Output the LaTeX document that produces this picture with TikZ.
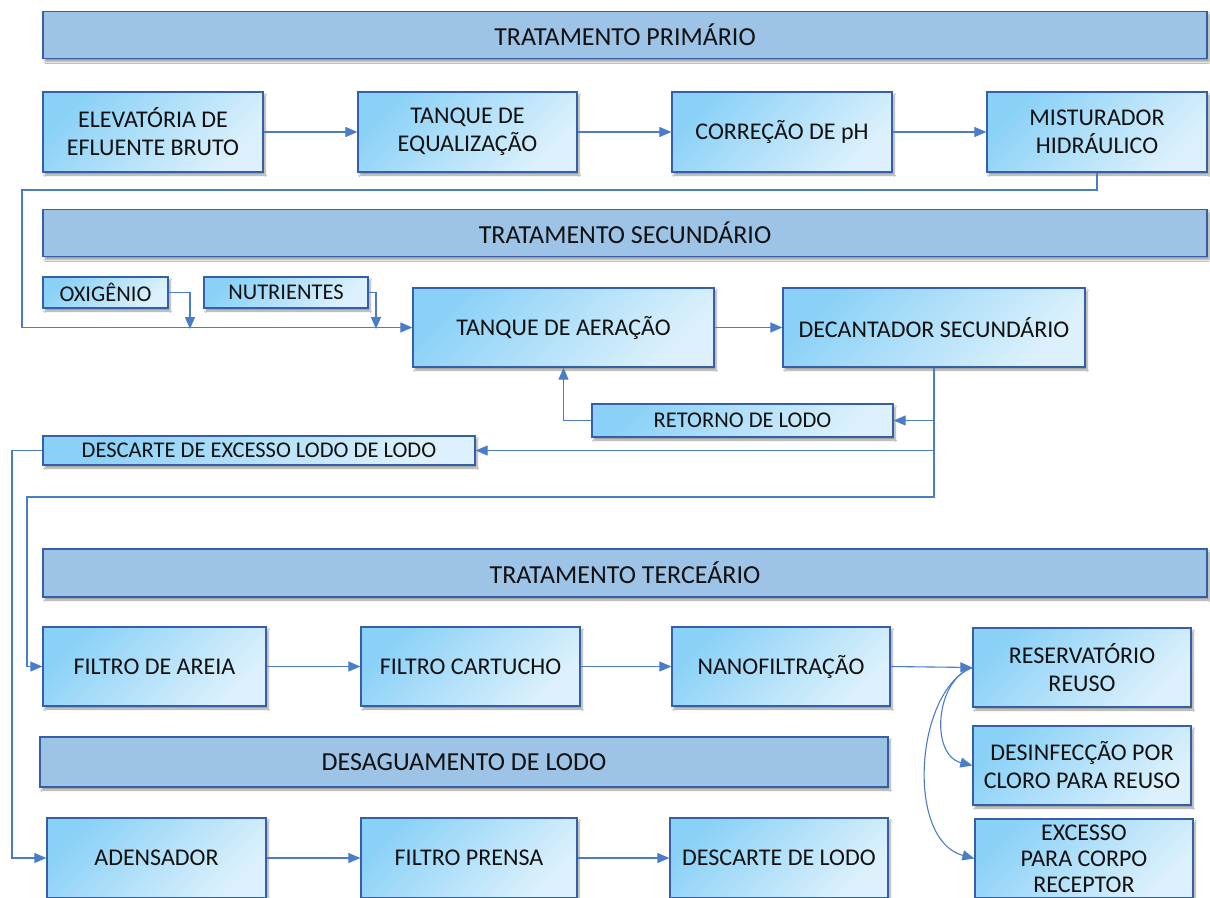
\documentclass[tikz,border=0pt]{standalone}
\usepackage{fontspec}
\setmainfont{Carlito}
\usetikzlibrary{arrows.meta,shadows.blur}
\definecolor{boxA}{HTML}{8AD1F7}
\definecolor{boxB}{HTML}{DDF1FC}
\definecolor{boxline}{HTML}{3560A8}
\definecolor{barfill}{HTML}{9DC3E6}
\definecolor{flowc}{HTML}{4A7CC9}
\definecolor{textc}{HTML}{111111}
\begin{document}
\begin{tikzpicture}[x=1pt,y=-1pt,
    frame/.style = {draw=boxline, line width=1.3pt, align=center, text=textc, inner sep=2pt,
                    blur shadow={shadow xshift=2pt, shadow yshift=-3pt, shadow blur steps=6}},
    box/.style = {frame, top color=boxA, bottom color=boxB, shading angle=45,
                  minimum height=80pt, font=\fontsize{24}{28}\selectfont},
    small/.style = {box, minimum height=31pt, font=\fontsize{22.5}{26}\selectfont},
    bar/.style = {frame, fill=barfill, minimum width=1164pt, minimum height=47pt,
                  font=\fontsize{26}{30}\selectfont},
    link/.style = {draw=flowc, line width=1.1pt},
    flow/.style = {link, -{Triangle[length=12pt,width=10pt]}}]
    \clip (0,0) rectangle (1210,897);
    \fill[white] (0,0) rectangle (1210,897);

    \node[bar] (prim) at (625,35) {TRATAMENTO PRIMÁRIO};
    \node[box, minimum width=220pt] (elev) at (153,132) {ELEVATÓRIA DE\\EFLUENTE BRUTO};
    \node[box, minimum width=219pt] (equal) at (467.5,132) {TANQUE DE\\EQUALIZAÇÃO};
    \node[box, minimum width=220pt] (corph) at (782,132) {CORREÇÃO DE pH};
    \node[box, minimum width=220pt] (mist) at (1097,132) {MISTURADOR\\HIDRÁULICO};

    \node[bar] (sec) at (625,233) {TRATAMENTO SECUNDÁRIO};
    \node[small, minimum width=125pt] (oxi) at (105.5,292.5) {OXIGÊNIO};
    \node[small, minimum width=164pt] (nutr) at (286,292.5) {NUTRIENTES};
    \node[box, minimum width=301pt, minimum height=79pt] (aer) at (563.5,327.5) {TANQUE DE AERAÇÃO};
    \node[box, minimum width=302pt, minimum height=79pt] (dec) at (934,327.5) {DECANTADOR SECUNDÁRIO};
    \node[small, minimum width=301pt, minimum height=33pt] (ret) at (742.5,420.5) {RETORNO DE LODO};
    \node[small, minimum width=432pt, minimum height=29pt] (desc) at (259,450.5) {DESCARTE DE EXCESSO LODO DE LODO};

    \node[bar, minimum height=48pt] (terc) at (625,573) {TRATAMENTO TERCEÁRIO};
    \node[box, minimum width=223pt, minimum height=79pt] (areia) at (154.5,666.5) {FILTRO DE AREIA};
    \node[box, minimum width=219pt, minimum height=79pt] (cart) at (470.5,666.5) {FILTRO CARTUCHO};
    \node[box, minimum width=218pt, minimum height=79pt] (nano) at (781,666.5) {NANOFILTRAÇÃO};
    \node[box, minimum width=218pt, minimum height=79pt] (res) at (1082,667.5) {RESERVATÓRIO\\REUSO};
    \node[box, minimum width=218pt, minimum height=79pt] (desinf) at (1082,765.5) {DESINFECÇÃO POR\\CLORO PARA REUSO};
    \node[box, minimum width=218pt, minimum height=79pt, inner sep=0pt,
          font=\fontsize{24}{26}\selectfont] (exc) at (1084,858.5) {EXCESSO\\PARA CORPO\\RECEPTOR};

    \node[bar, minimum width=848pt, minimum height=50pt] (desag) at (464,762) {DESAGUAMENTO DE LODO};
    \node[box, minimum width=219pt] (aden) at (156.5,858) {ADENSADOR};
    \node[box, minimum width=216pt] (prensa) at (469,858) {FILTRO PRENSA};
    \node[box, minimum width=218pt] (dlodo) at (779,858) {DESCARTE DE LODO};

    \coordinate (loopA) at (22,190);
    \coordinate (oxiIn) at (190,329);
    \coordinate (nutrIn) at (376,329);
    \coordinate (loopB) at (27,497);
    \coordinate (loopC) at (12,858);

    \draw[flow] (elev) -- (equal);
    \draw[flow] (equal) -- (corph);
    \draw[flow] (corph) -- (mist);
    \draw[flow] (mist.south) |- (loopA) |- (aer.west);
    \draw[flow] (oxi.east) -| (oxiIn);
    \draw[flow] (nutr.east) -| (nutrIn);
    \draw[flow] (aer) -- (dec);
    \draw[flow] (dec.south |- ret.east) -- (ret.east);
    \draw[flow] (dec.south |- desc.east) -- (desc.east);
    \draw[flow] (ret.west) -| (aer.south);
    \draw[flow] (dec.south) |- (loopB) |- (areia.west);
    \draw[flow] (desc.west) -| (loopC) -- (aden.west);
    \draw[flow] (areia) -- (cart);
    \draw[flow] (cart) -- (nano);
    \draw[flow] (nano.east) -- (res.west);
    \draw[flow] (res.west) .. controls (935,680) and (930,755) .. (desinf.west);
    \draw[flow] (res.west) .. controls (915,690) and (905,840) .. (exc.west);
    \draw[flow] (aden) -- (prensa);
    \draw[flow] (prensa) -- (dlodo);
\end{tikzpicture}
\end{document}
